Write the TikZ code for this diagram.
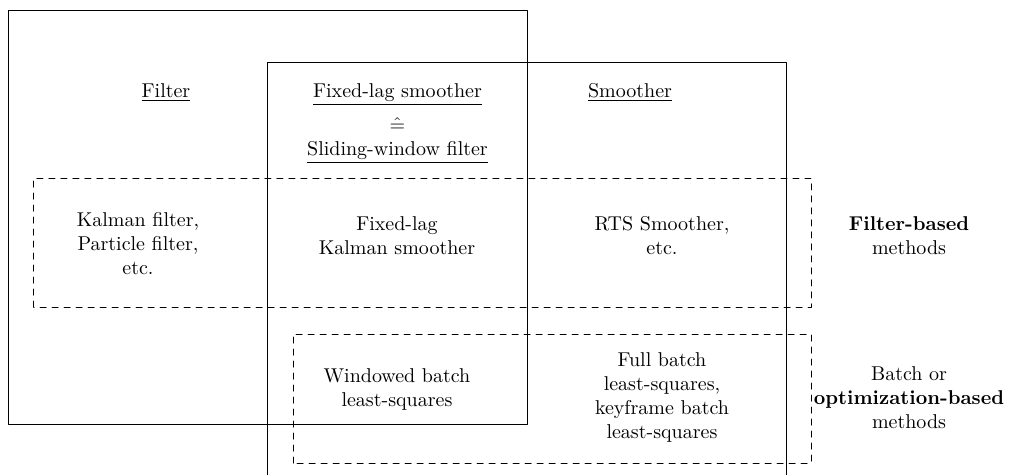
\documentclass[tikz,border=0pt]{standalone}
\usepackage{amsmath}

\begin{document}
\begin{tikzpicture}[line cap=round,line join=round,x=1.0cm,y=1.0cm,
		lbl/.style={align=center,inner sep=0pt},
		hd/.style={anchor=base,inner sep=0pt}]
			\clip(0,0) rectangle (17.766,8.330);
			% solid boxes
			\draw [line width=0.5pt] (0.141,0.879) rectangle (9.261,8.154);
			\draw [line width=0.5pt] (4.692,-0.5) rectangle (13.812,7.240);
			% dashed boxes
			\draw [line width=0.5pt,dashed] (0.597,2.935) rectangle (14.252,5.202);
			\draw [line width=0.5pt,dashed] (5.149,0.193) rectangle (14.252,2.460);
			% headings
			\node[hd] (filt) at (2.917,6.625) {\underline{Filter}};
			\node[hd] (fls) at (6.985,6.625) {\underline{Fixed-lag smoother}};
			\node[hd] (eq) at (6.985,6.027) {$\hat{=}$};
			\node[hd] (swf) at (6.985,5.606) {\underline{Sliding-window filter}};
			\node[hd] (smth) at (11.071,6.625) {\underline{Smoother}};
			% filter-based row
			\node[lbl] (kf) at (2.425,4.042) {Kalman filter,\\ Particle filter,\\ etc.};
			\node[lbl] (flk) at (6.976,4.182) {Fixed-lag\\ Kalman smoother};
			\node[lbl] (rts) at (11.633,4.182) {RTS Smoother,\\ etc.};
			\node[lbl] (fbm) at (15.974,4.182) {\textbf{Filter-based}\\ methods};
			% batch row
			\node[lbl] (wb) at (6.976,1.494) {Windowed batch\\ least-squares};
			\node[lbl] (fb) at (11.633,1.353) {Full batch\\ least-squares,\\ keyframe batch\\ least-squares};
			\node[lbl] (obm) at (15.974,1.336) {Batch or\\ \textbf{optimization-based}\\ methods};
		\end{tikzpicture}
\end{document}
